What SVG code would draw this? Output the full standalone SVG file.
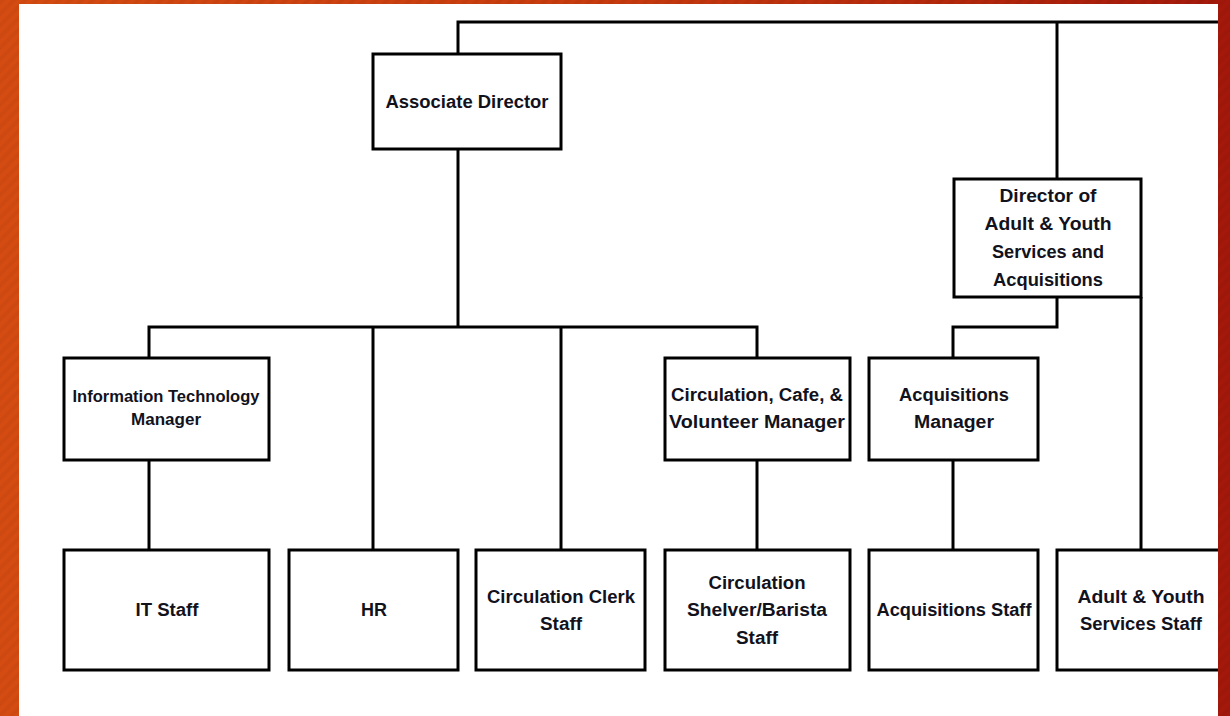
<svg xmlns="http://www.w3.org/2000/svg" width="1230" height="716" viewBox="0 0 1230 716">
  <defs>
    <linearGradient id="frame" x1="0" y1="0" x2="1" y2="0">
      <stop offset="0" stop-color="#d54c12"/>
      <stop offset="0.5" stop-color="#c73a0e"/>
      <stop offset="1" stop-color="#a3180a"/>
    </linearGradient>
    <pattern id="stripes" width="8" height="8" patternUnits="userSpaceOnUse" patternTransform="rotate(45)">
      <rect width="4" height="8" fill="#000" opacity="0.04"/>
    </pattern>
    <clipPath id="page">
      <rect x="19" y="4" width="1199" height="712"/>
    </clipPath>
  </defs>
  <style>
    .box { fill: #fff; stroke: #000; stroke-width: 3; }
    .wire { fill: none; stroke: #000; stroke-width: 3; }
    text { font-family: "Liberation Sans", Arial, sans-serif; font-weight: bold; fill: #12121c; text-anchor: middle; font-size: 18px; }
    .sm { font-size: 16px; }
  </style>

  <!-- slide frame -->
  <rect width="1230" height="716" fill="url(#frame)"/>
  <rect width="1230" height="716" fill="url(#stripes)"/>
  <rect x="19" y="4" width="1199" height="712" fill="#fff"/>

  <g clip-path="url(#page)">
    <!-- connectors -->
    <g id="connectors" class="wire">
      <polyline points="458,54 458,22 1230,22"/>
      <line x1="1057" y1="22" x2="1057" y2="179"/>
      <line x1="458" y1="149" x2="458" y2="327"/>
      <polyline points="149,358 149,327 757,327 757,358"/>
      <line x1="373" y1="327" x2="373" y2="550"/>
      <line x1="561" y1="327" x2="561" y2="550"/>
      <polyline points="1057,297 1057,327 953,327 953,358"/>
      <line x1="1141" y1="297" x2="1141" y2="550"/>
      <line x1="149" y1="460" x2="149" y2="550"/>
      <line x1="757" y1="460" x2="757" y2="550"/>
      <line x1="953" y1="460" x2="953" y2="550"/>
    </g>

    <g id="associate-director">
      <rect class="box" x="373" y="54" width="188" height="95"/>
      <text x="467" y="108" textLength="163" lengthAdjust="spacingAndGlyphs">Associate Director</text>
    </g>

    <g id="director-adult-youth">
      <rect class="box" x="954" y="179" width="187" height="118"/>
      <text x="1048" y="202" textLength="97" lengthAdjust="spacingAndGlyphs">Director of</text>
      <text x="1048" y="230" textLength="127" lengthAdjust="spacingAndGlyphs">Adult &amp; Youth</text>
      <text x="1048" y="258" textLength="112" lengthAdjust="spacingAndGlyphs">Services and</text>
      <text x="1048" y="286" textLength="110" lengthAdjust="spacingAndGlyphs">Acquisitions</text>
    </g>

    <g id="it-manager">
      <rect class="box" x="64" y="358" width="205" height="102"/>
      <text class="sm" x="166" y="402" textLength="187" lengthAdjust="spacingAndGlyphs">Information Technology</text>
      <text class="sm" x="166" y="425" textLength="70" lengthAdjust="spacingAndGlyphs">Manager</text>
    </g>

    <g id="circulation-manager">
      <rect class="box" x="665" y="358" width="185" height="102"/>
      <text x="757" y="401" textLength="172" lengthAdjust="spacingAndGlyphs">Circulation, Cafe, &amp;</text>
      <text x="757" y="428" textLength="176" lengthAdjust="spacingAndGlyphs">Volunteer Manager</text>
    </g>

    <g id="acquisitions-manager">
      <rect class="box" x="869" y="358" width="169" height="102"/>
      <text x="954" y="401" textLength="110" lengthAdjust="spacingAndGlyphs">Acquisitions</text>
      <text x="954" y="428" textLength="80" lengthAdjust="spacingAndGlyphs">Manager</text>
    </g>

    <g id="it-staff">
      <rect class="box" x="64" y="550" width="205" height="120"/>
      <text x="167" y="616" textLength="63" lengthAdjust="spacingAndGlyphs">IT Staff</text>
    </g>

    <g id="hr">
      <rect class="box" x="289" y="550" width="169" height="120"/>
      <text x="374" y="616" textLength="26" lengthAdjust="spacingAndGlyphs">HR</text>
    </g>

    <g id="circulation-clerk-staff">
      <rect class="box" x="476" y="550" width="169" height="120"/>
      <text x="561" y="603" textLength="148" lengthAdjust="spacingAndGlyphs">Circulation Clerk</text>
      <text x="561" y="630" textLength="42" lengthAdjust="spacingAndGlyphs">Staff</text>
    </g>

    <g id="circulation-shelver-staff">
      <rect class="box" x="665" y="550" width="185" height="120"/>
      <text x="757" y="589" textLength="97" lengthAdjust="spacingAndGlyphs">Circulation</text>
      <text x="757" y="616" textLength="140" lengthAdjust="spacingAndGlyphs">Shelver/Barista</text>
      <text x="757" y="644" textLength="42" lengthAdjust="spacingAndGlyphs">Staff</text>
    </g>

    <g id="acquisitions-staff">
      <rect class="box" x="869" y="550" width="169" height="120"/>
      <text x="954" y="616" textLength="155" lengthAdjust="spacingAndGlyphs">Acquisitions Staff</text>
    </g>

    <g id="adult-youth-staff">
      <rect class="box" x="1057" y="550" width="200" height="120"/>
      <text x="1141" y="603" textLength="127" lengthAdjust="spacingAndGlyphs">Adult &amp; Youth</text>
      <text x="1141" y="630" textLength="122" lengthAdjust="spacingAndGlyphs">Services Staff</text>
    </g>
  </g>
</svg>
